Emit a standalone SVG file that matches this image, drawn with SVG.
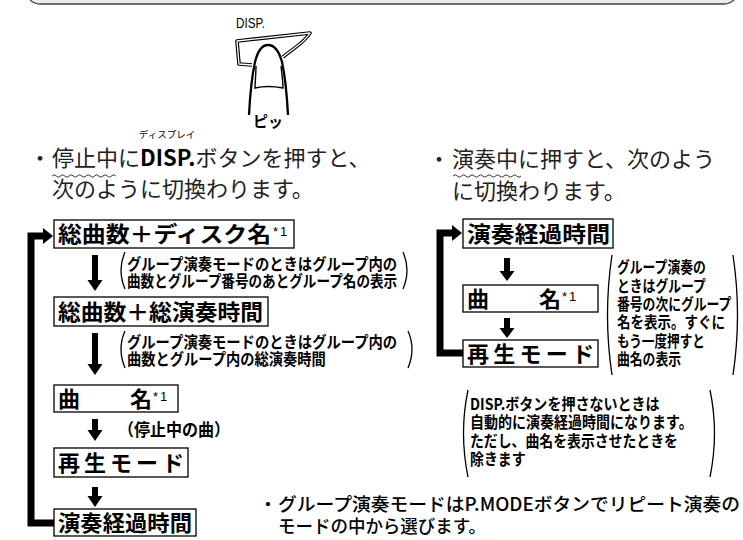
<svg xmlns="http://www.w3.org/2000/svg" width="743" height="540" viewBox="0 0 743 540">
<defs>
<style>
text{font-family:"Noto Sans CJK JP","Noto Sans",sans-serif;fill:#000}
.body{font-size:22px;fill:#222}
.bt{font-size:22px;font-weight:bold}
.sup{font-family:"Liberation Sans",sans-serif;font-size:13px;letter-spacing:2px}
.note{font-size:16px;font-weight:bold}
.box{fill:#fff;stroke:#000;stroke-width:1.3}
.paren{fill:none;stroke:#000;stroke-width:1.3}
.wave{fill:none;stroke:#333;stroke-width:1}
.flow{fill:none;stroke:#000;stroke-width:7}
.head{fill:#000}
</style>
</defs>
<rect x="0" y="0" width="743" height="540" fill="#fff"/>

<!-- panel edge at the top -->
<rect x="26" y="-40" width="712" height="44" rx="14" fill="#ececec" stroke="#444" stroke-width="1.3"/>

<!-- DISP. key pressed by a finger -->
<g id="key">
<text x="236" y="28" font-size="15" textLength="29" lengthAdjust="spacingAndGlyphs" style="font-family:'Liberation Sans',sans-serif">DISP.</text>
<path d="M283,57 C294,48 305,42 310,33 L237,41 L239,64 L252,65" fill="#fff" stroke="#000" stroke-width="3.6" stroke-linejoin="round"/>
<path d="M283,57 C294,48 305,42 310,33 L237,41 L239,64 L252,65" fill="none" stroke="#fff" stroke-width="1.3" stroke-linejoin="round"/>
<path d="M249,115 C250,95 252,76 255,62 C258,50 263,45 268,45 C274,45 279,51 282,62 C285,76 287,96 288,115" fill="#fff" stroke="#000" stroke-width="2.3"/>
<path d="M256,66 C256,75 255,82 255,88 Q268,85 283,88 C283,82 282,74 281,66" fill="none" stroke="#000" stroke-width="1.4"/>
<text x="253" y="127" font-size="15" font-weight="bold">ピッ</text>
</g>

<!-- instructions, stopped -->
<g id="stopText">
<text x="167" y="138" font-size="9.5" text-anchor="middle">ディスプレイ</text>
<text x="29" y="166" class="body">・</text>
<text x="52" y="166" class="body">停止中に<tspan font-weight="bold" fill="#000">DISP.</tspan>ボタンを押すと、</text>
<text x="52" y="197" class="body">次のように切換わります。</text>
<path class="wave" d="M52,176 q2.125,-2.5 4.25,0 t4.25,0 t4.25,0 t4.25,0 t4.25,0 t4.25,0 t4.25,0 t4.25,0 t4.25,0 t4.25,0 t4.25,0 t4.25,0 t4.25,0 t4.25,0 t4.25,0"/>
</g>

<!-- instructions, playing -->
<g id="playText">
<text x="428" y="167" class="body">・</text>
<text x="452" y="167" class="body">演奏中に押すと、次のよう</text>
<text x="452" y="199" class="body">に切換わります。</text>
<path class="wave" d="M453,176 q2.125,-2.5 4.25,0 t4.25,0 t4.25,0 t4.25,0 t4.25,0 t4.25,0 t4.25,0 t4.25,0 t4.25,0 t4.25,0 t4.25,0 t4.25,0 t4.25,0 t4.25,0 t4.25,0 t4.25,0"/>
</g>

<!-- connectors -->
<g id="connectors">
<path class="flow" d="M54,523 H31 V236 H44"/>
<polygon class="head" points="43,228 53,236 43,244"/>
<polygon class="head" points="92,255 98,255 98,280 102.5,280 95,291 87.5,280 92,280"/>
<polygon class="head" points="92,333 98,333 98,364 102.5,364 95,375 87.5,364 92,364"/>
<polygon class="head" points="92,419 98,419 98,430 102.5,430 95,441 87.5,430 92,430"/>
<polygon class="head" points="92,487 98,487 98,496 102.5,496 95,507 87.5,496 92,496"/>
<path class="flow" d="M463,353 H440 V233 H453"/>
<polygon class="head" points="452,225 462,233 452,241"/>
<polygon class="head" points="504,258 510,258 510,271 514.5,271 507,281 499.5,271 504,271"/>
<polygon class="head" points="504,318 510,318 510,328 514.5,328 507,338 499.5,328 504,328"/>
</g>

<!-- stopped sequence -->
<g id="s1">
<rect class="box" x="54" y="220" width="240" height="28"/>
<text x="58" y="242" class="bt" textLength="213" lengthAdjust="spacingAndGlyphs">総曲数＋ディスク名</text>
<text x="273" y="236" class="sup">*1</text>
</g>
<g id="n1">
<path class="paren" d="M125,252 Q117,270 125,289"/>
<text class="note" transform="translate(127,270) scale(0.88,1)" textLength="307" lengthAdjust="spacingAndGlyphs">グループ演奏モードのときはグループ内の</text>
<text class="note" transform="translate(127,287) scale(0.88,1)" textLength="307" lengthAdjust="spacingAndGlyphs">曲数とグループ番号のあとグループ名の表示</text>
<path class="paren" d="M403,252 Q411,270 403,289"/>
</g>
<g id="s2">
<rect class="box" x="54" y="297" width="214" height="29"/>
<text x="58" y="320" class="bt" textLength="205" lengthAdjust="spacingAndGlyphs">総曲数＋総演奏時間</text>
</g>
<g id="n2">
<path class="paren" d="M125,331 Q117,349 125,368"/>
<text class="note" transform="translate(127,348) scale(0.88,1)" textLength="307" lengthAdjust="spacingAndGlyphs">グループ演奏モードのときはグループ内の</text>
<text class="note" transform="translate(127,365) scale(0.88,1)" textLength="226" lengthAdjust="spacingAndGlyphs">曲数とグループ内の総演奏時間</text>
<path class="paren" d="M408,331 Q416,349 408,368"/>
</g>
<g id="s3">
<rect class="box" x="54" y="385" width="124" height="27"/>
<text x="58" y="407" class="bt">曲</text>
<text x="130" y="407" class="bt">名</text>
<text x="153" y="401" class="sup">*1</text>
</g>
<g id="n3">
<text x="118" y="436" font-size="17" font-weight="bold" textLength="112" lengthAdjust="spacingAndGlyphs">（停止中の曲）</text>
</g>
<g id="s4">
<rect class="box" x="54" y="448" width="134" height="29"/>
<text x="58" y="471" class="bt" textLength="126" lengthAdjust="spacing">再生モード</text>
</g>
<g id="s5">
<rect class="box" x="54" y="509" width="142" height="27"/>
<text x="58" y="531" class="bt" textLength="134" lengthAdjust="spacingAndGlyphs">演奏経過時間</text>
</g>

<!-- playing sequence -->
<g id="p1">
<rect class="box" x="463" y="219" width="150" height="29"/>
<text x="467" y="242" class="bt" textLength="143" lengthAdjust="spacingAndGlyphs">演奏経過時間</text>
</g>
<g id="p2">
<rect class="box" x="463" y="285" width="135" height="27"/>
<text x="467" y="307" class="bt">曲</text>
<text x="539" y="307" class="bt">名</text>
<text x="562" y="301" class="sup">*1</text>
</g>
<g id="p3">
<rect class="box" x="463" y="340" width="135" height="27"/>
<text x="467" y="362" class="bt" textLength="127" lengthAdjust="spacing">再生モード</text>
</g>
<g id="pn">
<path class="paren" d="M612,255 Q603,315 612,375"/>
<text class="note" transform="translate(617,273) scale(0.8,1)" textLength="111" lengthAdjust="spacingAndGlyphs">グループ演奏の</text>
<text class="note" transform="translate(617,292) scale(0.8,1)" textLength="111" lengthAdjust="spacingAndGlyphs">ときはグループ</text>
<text class="note" transform="translate(617,310) scale(0.8,1)" textLength="143" lengthAdjust="spacingAndGlyphs">番号の次にグループ</text>
<text class="note" transform="translate(617,328) scale(0.8,1)" textLength="135" lengthAdjust="spacingAndGlyphs">名を表示。すぐに</text>
<text class="note" transform="translate(617,347) scale(0.8,1)" textLength="110" lengthAdjust="spacingAndGlyphs">もう一度押すと</text>
<text class="note" transform="translate(617,365) scale(0.8,1)" textLength="80" lengthAdjust="spacingAndGlyphs">曲名の表示</text>
<path class="paren" d="M733,255 Q742,315 733,375"/>
</g>
<g id="pn2">
<path class="paren" d="M468,390 Q459,433 468,477"/>
<text class="note" transform="translate(470,410) scale(0.87,1)" textLength="218" lengthAdjust="spacingAndGlyphs">DISP.ボタンを押さないときは</text>
<text class="note" transform="translate(470,428) scale(0.87,1)" textLength="256" lengthAdjust="spacingAndGlyphs">自動的に演奏経過時間になります。</text>
<text class="note" transform="translate(470,447) scale(0.87,1)" textLength="239" lengthAdjust="spacingAndGlyphs">ただし、曲名を表示させたときを</text>
<text class="note" transform="translate(470,465) scale(0.87,1)" textLength="64" lengthAdjust="spacingAndGlyphs">除きます</text>
<path class="paren" d="M710,390 Q719,433 710,477"/>
</g>

<!-- footnote -->
<g id="foot">
<text x="259" y="511" font-size="18" font-weight="500">・</text>
<text x="278" y="511" font-size="18" font-weight="500" textLength="462" lengthAdjust="spacingAndGlyphs">グループ演奏モードはP.MODEボタンでリピート演奏の</text>
<text x="278" y="533" font-size="18" font-weight="500" textLength="208" lengthAdjust="spacingAndGlyphs">モードの中から選びます。</text>
</g>
</svg>
